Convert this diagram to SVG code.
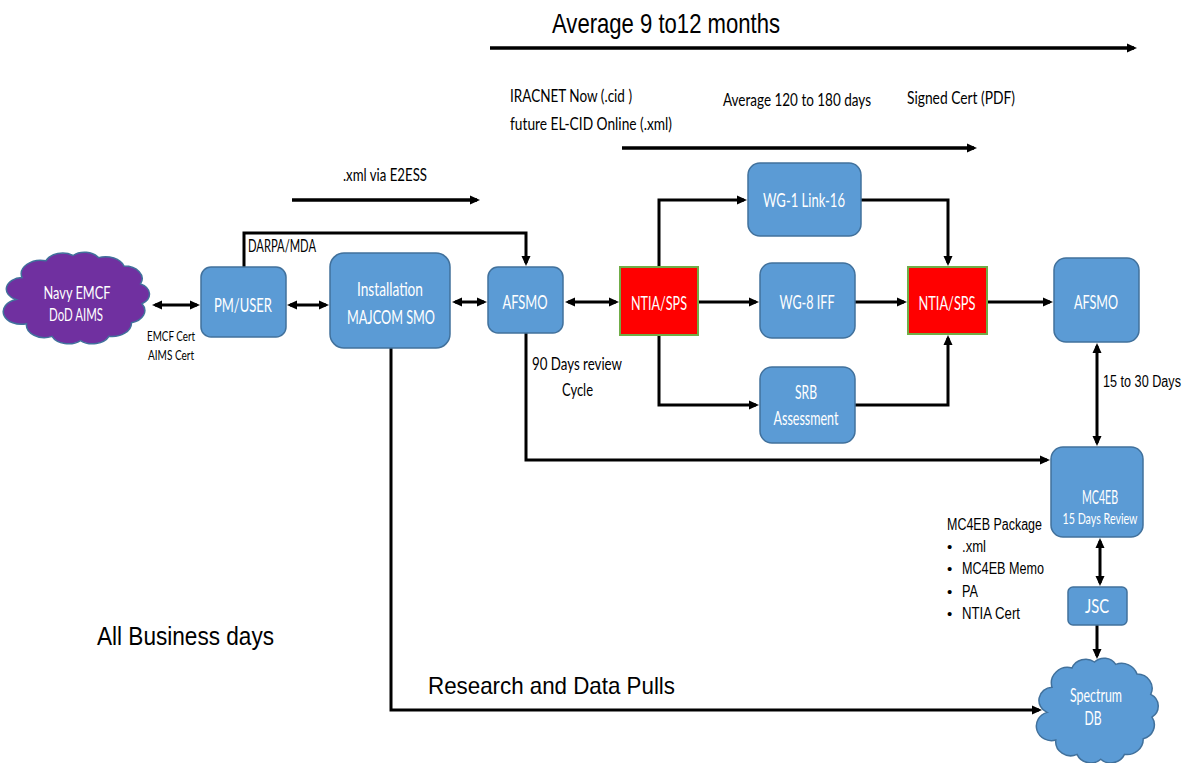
<svg xmlns="http://www.w3.org/2000/svg" width="1190" height="763" viewBox="0 0 1190 763">
<style>
.box{fill:#5B9BD5;stroke:#41719C;stroke-width:1.5}
.red{fill:#FF0000;stroke:#70AD47;stroke-width:2}
.bt{font-family:Lato,"Liberation Sans",sans-serif;fill:#fff;font-size:20px;text-anchor:middle}
.ct{font-family:Lato,"Liberation Sans",sans-serif;fill:#000;font-size:18px}
.ar{font-family:"Liberation Sans Narrow","Liberation Sans",sans-serif;fill:#000}
.ln{stroke:#000;stroke-width:3;fill:none}
.lt{stroke:#000;stroke-width:3.5;fill:none}
</style>
<defs>
<marker id="ah" viewBox="0 0 10 10" refX="7" refY="5" markerWidth="10" markerHeight="10" markerUnits="userSpaceOnUse" orient="auto-start-reverse">
<path d="M0,0.5 L10,5 L0,9.5 z" fill="#000"/>
</marker>
<path id="cloud" d="M8,52 A11,11 0 0 1 12,31 A13,13 0 0 1 28,15 A12,12 0 0 1 46,10 A11,11 0 0 1 63,12 A13,13 0 0 1 80,20 A12,12 0 0 1 91,37 A11,11 0 0 1 92,56 A12,12 0 0 1 85,74 A13,13 0 0 1 70,87 A12,12 0 0 1 51,91 A12,12 0 0 1 32,87 A12,12 0 0 1 15,75 A11,11 0 0 1 8,52 Z" vector-effect="non-scaling-stroke"/>
</defs>
<rect width="1190" height="763" fill="#fff"/>

<g id="connectors">
<path class="lt" d="M490,48 H1134" marker-end="url(#ah)"/>
<path class="lt" d="M622,148 H974" marker-end="url(#ah)"/>
<path class="lt" d="M292,200 H477" marker-end="url(#ah)"/>
<path class="ln" d="M155,305 H197" marker-start="url(#ah)" marker-end="url(#ah)"/>
<path class="ln" d="M290,305 H326" marker-start="url(#ah)" marker-end="url(#ah)"/>
<path class="ln" d="M455,302 H484" marker-start="url(#ah)" marker-end="url(#ah)"/>
<path class="ln" d="M568,302 H616" marker-start="url(#ah)" marker-end="url(#ah)"/>
<path class="ln" d="M244,267 V233 H526 V263" marker-end="url(#ah)"/>
<path class="ln" d="M659,267 V200 H744" marker-end="url(#ah)"/>
<path class="ln" d="M698,302 H756" marker-end="url(#ah)"/>
<path class="ln" d="M659,335 V405 H756" marker-end="url(#ah)"/>
<path class="ln" d="M861,200 H948 V263" marker-end="url(#ah)"/>
<path class="ln" d="M855,302 H904" marker-end="url(#ah)"/>
<path class="ln" d="M855,405 H948 V338" marker-end="url(#ah)"/>
<path class="ln" d="M987,302 H1050" marker-end="url(#ah)"/>
<path class="ln" d="M1097,346 V443" marker-start="url(#ah)" marker-end="url(#ah)"/>
<path class="ln" d="M526,333 V460 H1047" marker-end="url(#ah)"/>
<path class="ln" d="M1100,541 V583" marker-start="url(#ah)" marker-end="url(#ah)"/>
<path class="ln" d="M1097,625 V656" marker-end="url(#ah)"/>
<path class="ln" d="M391,348 V710 H1039" marker-end="url(#ah)"/>
</g>

<g id="navy">
<use href="#cloud" transform="translate(4,245) scale(1.50,1.05)" fill="#7030A0" stroke="#41719C" stroke-width="1.5"/>
<text class="bt" x="77" y="299" style="font-size:18px" textLength="67" lengthAdjust="spacingAndGlyphs">Navy EMCF</text>
<text class="bt" x="76" y="321" style="font-size:18px" textLength="54" lengthAdjust="spacingAndGlyphs">DoD AIMS</text>
</g>
<g id="pmuser">
<rect class="box" x="201" y="267" width="85" height="70" rx="10"/>
<text class="bt" x="243" y="312" textLength="58" lengthAdjust="spacingAndGlyphs">PM/USER</text>
</g>
<g id="installation">
<rect class="box" x="330" y="253" width="120" height="95" rx="14"/>
<text class="bt" x="390" y="296" textLength="66" lengthAdjust="spacingAndGlyphs">Installation</text>
<text class="bt" x="391" y="324" textLength="88" lengthAdjust="spacingAndGlyphs">MAJCOM SMO</text>
</g>
<g id="afsmo1">
<rect class="box" x="488" y="267" width="75" height="66" rx="10"/>
<text class="bt" x="525" y="309" textLength="45" lengthAdjust="spacingAndGlyphs">AFSMO</text>
</g>
<g id="ntia1">
<rect class="red" x="620" y="267" width="78" height="68"/>
<text class="bt" x="659" y="310" textLength="56" lengthAdjust="spacingAndGlyphs">NTIA/SPS</text>
</g>
<g id="wg1">
<rect class="box" x="748" y="163" width="113" height="73" rx="12"/>
<text class="bt" x="804" y="207" textLength="82" lengthAdjust="spacingAndGlyphs">WG-1 Link-16</text>
</g>
<g id="wg8">
<rect class="box" x="760" y="263" width="95" height="75" rx="12"/>
<text class="bt" x="807" y="309" textLength="55" lengthAdjust="spacingAndGlyphs">WG-8 IFF</text>
</g>
<g id="srb">
<rect class="box" x="760" y="367" width="95" height="76" rx="12"/>
<text class="bt" x="806" y="399" textLength="22" lengthAdjust="spacingAndGlyphs">SRB</text>
<text class="bt" x="806" y="425" textLength="65" lengthAdjust="spacingAndGlyphs">Assessment</text>
</g>
<g id="ntia2">
<rect class="red" x="908" y="267" width="79" height="67"/>
<text class="bt" x="947" y="310" textLength="57" lengthAdjust="spacingAndGlyphs">NTIA/SPS</text>
</g>
<g id="afsmo2">
<rect class="box" x="1054" y="258" width="85" height="84" rx="12"/>
<text class="bt" x="1096" y="309" textLength="44" lengthAdjust="spacingAndGlyphs">AFSMO</text>
</g>
<g id="mc4eb">
<rect class="box" x="1051" y="447" width="92" height="90" rx="12"/>
<text class="bt" x="1100" y="504" textLength="36" lengthAdjust="spacingAndGlyphs">MC4EB</text>
<text class="bt" x="1100" y="524" style="font-size:15px" textLength="75" lengthAdjust="spacingAndGlyphs">15 Days Review</text>
</g>
<g id="jsc">
<rect class="box" x="1068" y="587" width="59" height="38" rx="5"/>
<text class="bt" x="1097" y="613" textLength="24" lengthAdjust="spacingAndGlyphs">JSC</text>
</g>
<g id="spectrum">
<use href="#cloud" transform="translate(1037,650) scale(1.25,1.20)" fill="#5B9BD5" stroke="#41719C" stroke-width="1.5"/>
<text class="bt" x="1096" y="702" textLength="52" lengthAdjust="spacingAndGlyphs">Spectrum</text>
<text class="bt" x="1093" y="725" textLength="17" lengthAdjust="spacingAndGlyphs">DB</text>
</g>

<g id="labels">
<text class="ar" x="552" y="33" style="font-size:28px" textLength="228" lengthAdjust="spacingAndGlyphs">Average 9 to12 months</text>
<text class="ct" x="510" y="102" textLength="122" lengthAdjust="spacingAndGlyphs">IRACNET Now (.cid )</text>
<text class="ct" x="510" y="130" textLength="162" lengthAdjust="spacingAndGlyphs">future EL-CID Online (.xml)</text>
<text class="ct" x="723" y="106" textLength="148" lengthAdjust="spacingAndGlyphs">Average 120 to 180 days</text>
<text class="ct" x="907" y="104" textLength="108" lengthAdjust="spacingAndGlyphs">Signed Cert (PDF)</text>
<text class="ct" x="343" y="181" textLength="84" lengthAdjust="spacingAndGlyphs">.xml via E2ESS</text>
<text class="ct" x="248" y="252" textLength="68" lengthAdjust="spacingAndGlyphs">DARPA/MDA</text>
<text class="ct" x="147" y="341" style="font-size:14px" textLength="48" lengthAdjust="spacingAndGlyphs">EMCF Cert</text>
<text class="ct" x="148" y="360" style="font-size:14px" textLength="46" lengthAdjust="spacingAndGlyphs">AIMS Cert</text>
<text class="ct" x="532" y="370" textLength="90" lengthAdjust="spacingAndGlyphs">90 Days review</text>
<text class="ct" x="562" y="396" textLength="31" lengthAdjust="spacingAndGlyphs">Cycle</text>
<text class="ar" transform="translate(1103,387) scale(1,1.2)" x="0" y="0" style="font-size:13px" textLength="78" lengthAdjust="spacingAndGlyphs">15 to 30 Days</text>
<text class="ar" x="947" y="530" style="font-size:16px" textLength="95" lengthAdjust="spacingAndGlyphs">MC4EB Package</text>
<text class="ar" x="947" y="552" style="font-size:15px">•</text>
<text class="ar" x="962" y="552" style="font-size:16px" textLength="24" lengthAdjust="spacingAndGlyphs">.xml</text>
<text class="ar" x="947" y="574" style="font-size:15px">•</text>
<text class="ar" x="962" y="574" style="font-size:16px" textLength="82" lengthAdjust="spacingAndGlyphs">MC4EB Memo</text>
<text class="ar" x="947" y="597" style="font-size:15px">•</text>
<text class="ar" x="962" y="597" style="font-size:16px" textLength="16" lengthAdjust="spacingAndGlyphs">PA</text>
<text class="ar" x="947" y="619" style="font-size:15px">•</text>
<text class="ar" x="962" y="619" style="font-size:16px" textLength="58" lengthAdjust="spacingAndGlyphs">NTIA Cert</text>
<text class="ar" x="97" y="645" style="font-size:25px" textLength="177" lengthAdjust="spacingAndGlyphs">All Business days</text>
<text class="ar" x="428" y="694" style="font-size:24px" textLength="247" lengthAdjust="spacingAndGlyphs">Research and Data Pulls</text>
</g>
</svg>
